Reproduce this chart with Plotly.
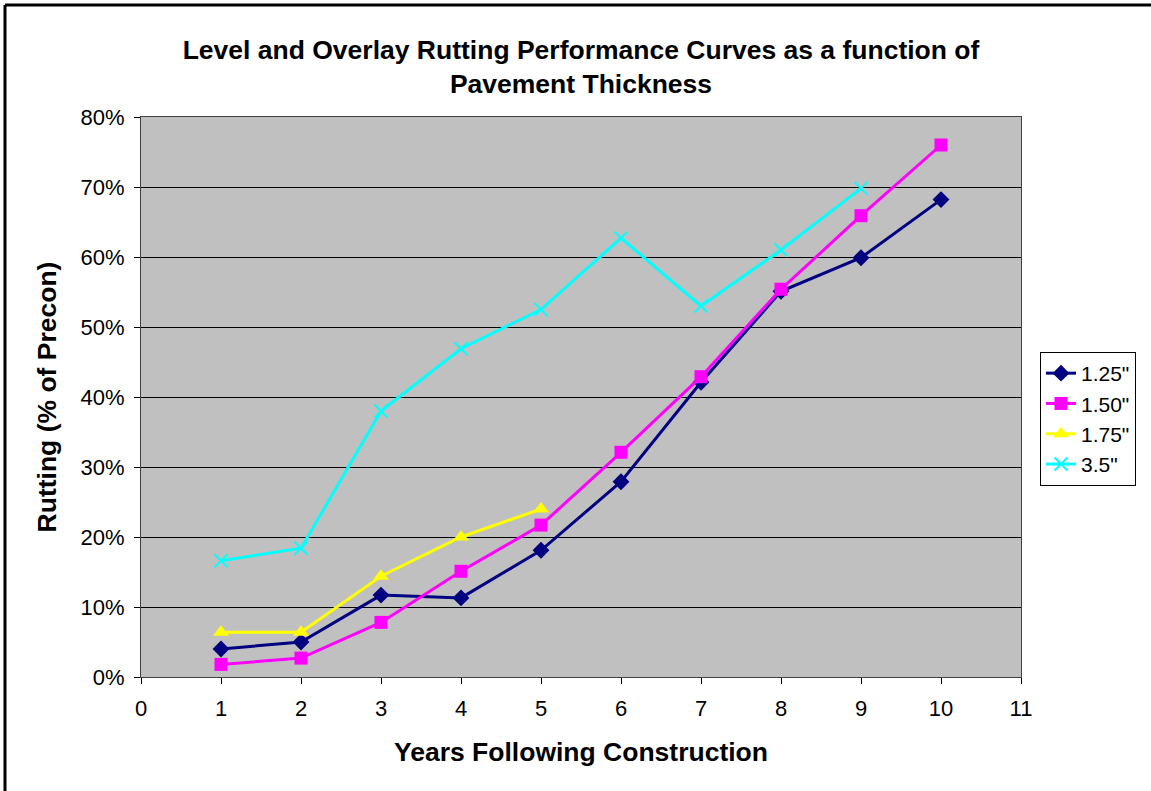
import plotly.graph_objects as go

years = [1, 2, 3, 4, 5, 6, 7, 8, 9, 10]
s125 = [4.0, 5.0, 11.7, 11.3, 18.1, 27.9, 42.1, 55.1, 59.9, 68.2]
s150 = [1.8, 2.7, 7.8, 15.1, 21.7, 32.1, 42.9, 55.4, 65.9, 76.0]
years175 = [1, 2, 3, 4, 5]
s175 = [6.4, 6.4, 14.4, 20.0, 24.0]
years35 = [1, 2, 3, 4, 5, 6, 7, 8, 9]
s35 = [16.6, 18.4, 38.0, 46.9, 52.5, 62.7, 53.0, 61.0, 69.8]

def pct(v):
    return [x / 100 for x in v]

fig = go.Figure()
fig.add_trace(go.Scatter(x=years, y=pct(s125), name='1.25"', mode="lines+markers",
                         line=dict(color="#000080", width=3),
                         marker=dict(symbol="diamond", size=13, color="#000080")))
fig.add_trace(go.Scatter(x=years, y=pct(s150), name='1.50"', mode="lines+markers",
                         line=dict(color="#FF00FF", width=3),
                         marker=dict(symbol="square", size=13, color="#FF00FF")))
fig.add_trace(go.Scatter(x=years175, y=pct(s175), name='1.75"', mode="lines+markers",
                         line=dict(color="#FFFF00", width=3),
                         marker=dict(symbol="triangle-up", size=14, color="#FFFF00")))
fig.add_trace(go.Scatter(x=years35, y=pct(s35), name='3.5"', mode="lines+markers",
                         line=dict(color="#00FFFF", width=3),
                         marker=dict(symbol="x-thin-open", size=13,
                                     line=dict(color="#00FFFF", width=2))))

font = "Liberation Sans, Arial, sans-serif"
W, H = 1151, 791
L, R, T, B = 141, 130, 117, 114
pw, ph = W - L - R, H - T - B

fig.update_layout(
    width=W, height=H,
    paper_bgcolor="white", plot_bgcolor="#C0C0C0",
    margin=dict(l=L, r=R, t=T, b=B),
    font=dict(family=font, color="black", size=22),
    title=dict(text="<b>Level and Overlay Rutting Performance Curves as a function of<br>Pavement Thickness</b>",
               x=0.5, xref="paper", xanchor="center", y=1 - 59 / H, yref="container", yanchor="top",
               font=dict(size=26.5, family=font)),
    showlegend=True,
    legend=dict(x=(1040 - L) / pw, xanchor="left", y=(677 - 352) / ph, yanchor="top",
                bgcolor="white", bordercolor="black", borderwidth=1,
                font=dict(size=21, family=font)),
    xaxis=dict(range=[0, 11], dtick=1, tick0=0, showgrid=False, zeroline=False,
               ticks="outside", ticklen=6, tickcolor="black", ticklabelstandoff=6,
               showline=True, linecolor="#404040", linewidth=1, mirror=True,
               title=dict(text="<b>Years Following Construction</b>", font=dict(size=26.5), standoff=22)),
    yaxis=dict(range=[0, 0.8], dtick=0.1, tickformat=".0%", showgrid=True,
               gridcolor="black", gridwidth=1, zeroline=False,
               ticks="outside", ticklen=6, tickcolor="black", ticklabelstandoff=5,
               showline=True, linecolor="#404040", linewidth=1, mirror=True,
               title=dict(text="<b>Rutting (% of Precon)</b>", font=dict(size=26.5), standoff=16)),
    shapes=[
        dict(type="line", xref="paper", yref="paper",
             x0=-(L - 5) / pw, x1=-(L - 5) / pw, y0=-(B + 10) / ph, y1=(ph + T - 5) / ph,
             line=dict(color="black", width=3)),
        dict(type="line", xref="paper", yref="paper",
             x0=-(L - 5) / pw, x1=(pw + R + 10) / pw, y0=(ph + T - 5) / ph, y1=(ph + T - 5) / ph,
             line=dict(color="black", width=3)),
    ],
)
fig.write_html("out.html", config={"displayModeBar": False},
               post_script="document.body.style.margin='0';document.body.style.overflow='hidden';")
